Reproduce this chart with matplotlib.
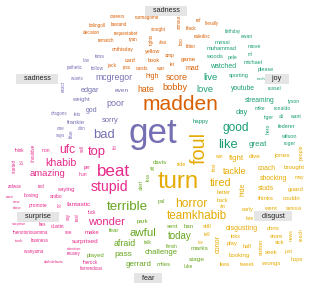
import matplotlib
matplotlib.use("Agg")
import matplotlib.pyplot as plt

plt.rcParams['font.family'] = ['Liberation Sans', 'DejaVu Sans']

# emotion groups: words, relative size (font em in px), and their cloud layout
sad_words = ["get", "bad", "mcgregor", "poor", "edgar", "even", "weight", "god", "sorry",
             "dragons", "lets", "frankie", "one", "blue", "don", "says", "tims", "low",
             "pathetic", "follow", "wants", "exact"]
sad_size = [35, 13, 8.8, 9, 7.4, 6.5, 6, 7, 7.5,
            4.5, 4.5, 6, 4.5, 4.5, 4.5, 4.5, 5.5, 4.5,
            4.5, 5, 4.5, 4.5]
sad_pos = [(153, 134, 0), (104, 135, 0), (114, 77, 0), (115, 103, 0), (90, 90, 0), (122, 90, 0),
           (81, 99, 0), (92, 110, 0), (110, 121, 0), (59, 113, 0), (77, 115, 0), (76, 123, 0),
           (61, 128, 0), (71, 134, 90), (82, 129, 0), (60, 135, 0), (100, 57, 0), (86, 61, 0),
           (75, 68, 0), (97, 68, 0), (77, 78, 0), (63, 86, 90)]

ang_words = ["madden", "hate", "high", "score", "bobby", "mad", "game", "war", "cards", "piss",
             "jack", "card", "book", "yellow", "onthisday", "rematch", "ryan", "decision",
             "requestabet", "bolingoll", "bestand", "careers", "nurmagome", "straight",
             "rights", "armour", "ref", "literally", "black", "naledisc", "also", "boo",
             "bitter", "amp", "let"]
ang_size = [21, 8.7, 7, 9, 9.2, 7, 6, 5, 5, 4.5,
            5, 5.5, 5.5, 5.5, 5, 4.5, 4.5, 4.5,
            4.5, 4.5, 4.5, 4.5, 4.5, 4.5,
            4.5, 4.5, 4.5, 4.5, 4.5, 4.5, 4.5, 4.5,
            4.5, 5, 4.5]
ang_pos = [(180, 104, 0), (146, 90, 0), (152, 77, 0), (177, 78, 0), (175, 88, 0), (192, 68, 0),
           (188, 59, 0), (160, 69, 0), (142, 69, 0), (127, 68, 0), (112, 66, 0), (130, 60, 0),
           (154, 61, 0), (153, 52, 0), (123, 49, 0), (106, 40, 0), (133, 40, 0), (91, 32, 0),
           (126, 34, 0), (97, 26, 0), (119, 24, 0), (117, 17, 0), (147, 18, 0), (158, 29, 0),
           (151, 39, 90), (179, 22, 90), (198, 21, 0), (212, 23, 0), (191, 28, 0), (202, 36, 0),
           (163, 42, 0), (181, 41, 90), (191, 46, 0), (170, 56, 0), (172, 65, 0)]

joy_words = ["good", "like", "live", "love", "watched", "youtube", "streaming", "day", "great",
             "birthday", "ewan", "messi", "move", "muhammad", "woods", "pele", "nrl", "michael",
             "please", "sporting", "each", "russel", "tyson", "mike", "ronaldo", "happy", "tiger",
             "ali", "want", "hero", "federer", "wilson", "roger"]
joy_size = [12, 13, 9.5, 9.3, 7, 6.8, 6.8, 7.5, 8,
            4.5, 5, 6, 5.5, 5.7, 5.8, 5, 4.5, 5.5,
            5.5, 5.5, 4, 5, 5, 5, 5, 6, 5,
            5, 5, 5, 5.5, 5.5, 5]
joy_pos = [(236, 128, 0), (228, 145, 0), (210, 78, 0), (205, 90, 0), (223, 67, 0), (243, 88, 0),
           (260, 100, 0), (242, 112, 0), (258, 144, 0), (233, 31, 0), (247, 37, 0), (223, 42, 0),
           (254, 47, 0), (222, 49, 0), (214, 57, 0), (233, 58, 0), (250, 54, 0), (253, 63, 0),
           (266, 70, 0), (239, 76, 0), (261, 79, 0), (274, 89, 0), (294, 102, 0), (260, 109, 0),
           (282, 109, 0), (201, 121, 0), (269, 117, 0), (281, 116, 0), (295, 117, 0),
           (268, 129, 90), (287, 127, 0), (289, 137, 0), (290, 144, 0)]

dis_words = ["foul", "turn", "horror", "teamkhabib", "tired", "tackle", "fight", "disgusting",
             "conor", "dive", "jones", "ride", "first", "coach", "brought", "may", "shocking",
             "hide", "better", "studs", "guard", "back", "thinks", "couldn", "ain", "early",
             "went", "serious", "late", "still", "chris", "news", "reach", "tell", "inks",
             "store", "ive", "play", "half", "sutton", "sick", "seek", "just", "booking",
             "hope", "ikea", "tweet", "wrongs", "win", "people"]
dis_size = [20, 24, 12, 11.6, 11, 9, 8, 7,
            7.3, 6.5, 6.5, 5.5, 5, 6.8, 6.3, 5, 6.9,
            7, 5.5, 6.8, 6.3, 5.5, 6, 6, 4.5, 5.5,
            6, 5, 5, 6, 6, 5, 5, 5, 5.5,
            6, 4.5, 6, 5.5, 6, 5.5, 6, 5, 6.2,
            5.5, 5.5, 6, 6, 5, 5]
dis_pos = [(199, 148, 90), (178, 182, 0), (191, 204, 0), (197, 216, 0), (221, 183, 0),
           (235, 171, 0), (236, 158, 0), (242, 228, 0), (218, 244, 90), (255, 157, 0),
           (282, 155, 0), (181, 165, 0), (214, 167, 90), (267, 168, 0), (294, 168, 0),
           (299, 177, 0), (273, 179, 0), (243, 189, 90), (224, 193, 0), (266, 189, 0),
           (296, 189, 0), (222, 200, 0), (266, 199, 0), (292, 199, 0), (223, 207, 0),
           (248, 209, 0), (270, 208, 0), (294, 208, 0), (250, 219, 0), (207, 227, 0),
           (273, 228, 0), (291, 235, 90), (301, 235, 90), (207, 235, 0), (236, 237, 0),
           (277, 236, 0), (201, 242, 0), (232, 244, 0), (247, 247, 0), (261, 247, 90),
           (280, 243, 0), (271, 253, 0), (288, 251, 0), (239, 256, 0), (297, 260, 0),
           (225, 264, 0), (247, 264, 0), (271, 263, 0), (219, 157, 0), (301, 152, 90)]

fear_words = ["terrible", "awful", "today", "afraid", "pass", "gerrard", "challenge", "davis",
              "pal", "park", "fear", "talk", "played", "miles", "luke", "sent", "han", "finish",
              "marks", "stage", "aff", "less", "alert"]
fear_size = [13.4, 11.5, 9.8, 8.8, 8.5, 8, 7.7, 6,
             5.5, 6, 6, 5, 6, 6, 5, 6, 6, 5,
             6.5, 6.5, 4.5, 4.5, 5]
fear_pos = [(127, 207, 0), (143, 233, 0), (180, 236, 0), (125, 244, 0), (123, 254, 0),
            (139, 265, 0), (161, 253, 0), (160, 163, 0), (161, 201, 0), (142, 221, 0),
            (114, 231, 0), (148, 242, 0), (96, 256, 0), (164, 264, 0), (188, 267, 0),
            (173, 227, 0), (189, 227, 0), (172, 246, 0), (199, 249, 0), (197, 259, 0),
            (153, 168, 90), (148, 177, 90), (141, 185, 90)]

sur_words = ["beat", "stupid", "top", "ufc", "khabib", "amazing", "wonder", "fantastic",
             "surprised", "make", "see", "hun", "per", "sell", "hit", "think", "shouldve", "non",
             "started", "lol", "zelwas", "red", "saying", "cant", "boxing", "anibo", "new",
             "done", "promote", "lol", "say", "real", "fuck", "surprise", "hes", "dustin",
             "thenotoriousmma", "took", "business", "attention", "wanyama", "reusey",
             "alabdelaziz", "therock", "horrendous"]
sur_size = [17, 14, 13, 12, 10.5, 9.5, 11.3, 6.5,
            6.5, 6, 4.5, 5, 4.5, 4.5, 4.5, 4.5, 4.5, 5,
            4.5, 4.5, 4.5, 4.5, 6, 4, 5, 5, 4,
            4, 5, 4.5, 4.5, 4.5, 4.5, 4, 4.5, 5,
            4.5, 4, 4.5, 3.8, 4.5, 4.5,
            4, 4.5, 4.5]
sur_pos = [(113, 172, 0), (109, 187, 0), (97, 152, 0), (67, 150, 0), (61, 163, 0), (47, 174, 0),
           (106, 222, 0), (79, 204, 0), (85, 242, 0), (92, 233, 0), (69, 233, 0), (83, 174, 0),
           (87, 167, 0), (82, 149, 90), (115, 147, 90), (20, 150, 0), (33, 153, 90), (46, 150, 0),
           (14, 166, 90), (22, 162, 90), (15, 187, 0), (41, 187, 0), (67, 189, 0), (10, 197, 0),
           (31, 196, 0), (56, 197, 0), (16, 202, 0), (17, 208, 0), (38, 206, 0), (59, 206, 0),
           (68, 217, 90), (77, 217, 90), (92, 212, 0), (19, 224, 0), (42, 224, 0), (58, 227, 0),
           (31, 233, 0), (19, 241, 0), (40, 241, 0), (74, 249, 0), (34, 252, 0), (74, 254, 0),
           (54, 262, 0), (90, 263, 0), (91, 268, 0)]

groups = [
    (sad_words, sad_size, sad_pos, "#7570B3"),
    (ang_words, ang_size, ang_pos, "#D95F02"),
    (joy_words, joy_size, joy_pos, "#1B9E77"),
    (dis_words, dis_size, dis_pos, "#E6AB02"),
    (fear_words, fear_size, fear_pos, "#66A61E"),
    (sur_words, sur_size, sur_pos, "#E7298A"),
]

labels = ["sadness", "sadness", "joy", "disgust", "fear", "surprise"]
label_pos = [(166, 11), (37, 79), (277, 79), (273, 216), (148, 278), (38, 217)]

fig = plt.figure(figsize=(3.19, 3.0), dpi=100)
ax = fig.add_axes([0, 0, 1, 1])
ax.set_xlim(0, 319)
ax.set_ylim(300, 0)
ax.axis('off')

for words, sizes, pos, color in groups:
    for w, s, (x, y, r) in zip(words, sizes, pos):
        ax.text(x, y, w, fontsize=s * 0.72, color=color, ha='center', va='center',
                rotation=r, zorder=2)

# labels sit on top of the cloud
for lab, (x, y) in zip(labels, label_pos):
    ax.text(x, y, "   " + lab + "   ", fontsize=5.2, color='#222222', ha='center', va='center',
            zorder=3, bbox=dict(facecolor='#e5e5e5', edgecolor='none', boxstyle='square,pad=0.25'))

fig.savefig("out.png", dpi=100)
